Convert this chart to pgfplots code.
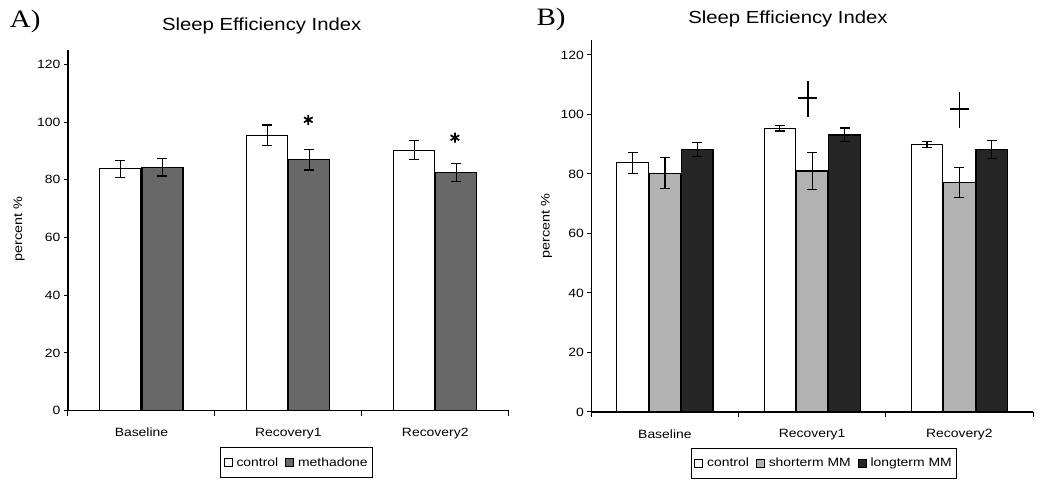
\documentclass[border=0pt]{standalone}
\usepackage{fontspec}
\setmainfont{Liberation Sans}[FakeStretch=1.16]
\newfontfamily\labelserif{Liberation Serif}[FakeStretch=1.16]
\usepackage{pgfplots}
\pgfplotsset{compat=1.18}
\definecolor{methgray}{HTML}{686868}
\definecolor{shortgray}{HTML}{B2B2B2}
\definecolor{longdark}{HTML}{262626}

\pgfplotsset{
  sleepaxis/.style={
    scale only axis, anchor=south west, clip=false,
    xmin=-0.5, xmax=2.5, ymin=0, ymax=125,
    axis x line=bottom, axis y line=left,
    axis line style={-, line width=1.1pt, black},
    xtick={0,1,2}, xticklabels={Baseline,Recovery1,Recovery2},
    minor xtick={-0.5,0.5,1.5,2.5},
    major x tick style={draw=none},
    minor tick length=5pt, major tick length=4pt,
    tick align=outside,
    ytick={0,20,...,120},
    tick style={black, line width=1pt},
    ticklabel style={font=\fontsize{12}{14}\selectfont},
    xticklabel style={yshift=-10pt},
    /pgf/number format/assume math mode=true,
    ylabel={percent \%},
    title={Sleep Efficiency Index},
    title style={font=\fontsize{17.5}{20}\selectfont, anchor=center},
    legend columns=-1,
    legend style={draw=black, line width=1pt, font=\fontsize{12}{14}\selectfont,
      anchor=center, inner xsep=3pt, inner ysep=8pt,
      /tikz/every odd column/.append style={column sep=2pt},
      /tikz/every even column/.append style={column sep=5pt}},
    legend image code/.code={\draw[#1, line width=0.8pt] (0pt,-4pt) rectangle (8pt,4pt);},
  },
  ebar/.style={error bars/.cd, y dir=both, y explicit,
    error bar style={black, line width=1.2pt},
    error mark options={rotate=90, black, mark size=5pt, line width=1.2pt}},
}

\begin{document}
\begin{tikzpicture}
\useasboundingbox (0,0) rectangle (1050pt,487pt);

% ---------------- Panel A ----------------
\begin{axis}[sleepaxis,
  at={(68pt,76.3pt)}, width=440.7pt, height=360.7pt,
  ylabel style={at={(axis description cs:-0.111,0.504)}, anchor=center,
    font=\fontsize{12.4}{14}\selectfont},
  title style={at={(axis description cs:0.4395,1.0507)}},
  legend style={at={(axis description cs:0.519,-0.1436)}},
]
\addplot[ybar, bar width=41pt, bar shift=0pt, fill=white, draw=black, line width=1pt, ebar]
  coordinates {(-0.143,83.8) +- (0,2.9) (0.857,95.4) +- (0,3.6) (1.857,90.3) +- (0,3.2)};
\addplot[ybar, bar width=41pt, bar shift=0pt, fill=methgray, draw=black, line width=1.2pt, ebar]
  coordinates {(0.143,84.3) +- (0,3.0) (1.143,87.0) +- (0,3.6) (2.143,82.5) +- (0,3.2)};
\legend{control, methadone}
% significance asterisks
\addplot[forget plot, sharp plot, only marks, mark=asterisk, mark size=5pt,
  mark options={line width=1.7pt, black}]
  coordinates {(1.136,100.8) (2.134,94.6)};
\node[font=\labelserif\fontsize{25}{28}\selectfont, anchor=center]
  at (axis description cs:-0.097,1.078) {A)};
\end{axis}

% ---------------- Panel B ----------------
\begin{axis}[sleepaxis,
  at={(591.3pt,75pt)}, width=441.7pt, height=372pt,
  ylabel style={at={(axis description cs:-0.101,0.501)}, anchor=center,
    font=\fontsize{12.4}{14}\selectfont},
  title style={at={(axis description cs:0.4453,1.0403)}},
  legend style={at={(axis description cs:0.527,-0.138)}},
]
\addplot[ybar, bar width=31.5pt, bar shift=0pt, fill=white, draw=black, line width=1pt, ebar]
  coordinates {(-0.220,83.7) +- (0,3.6) (0.780,95.3) +- (0,0.9) (1.780,89.9) +- (0,1.1)};
\addplot[ybar, bar width=31.5pt, bar shift=0pt, fill=shortgray, draw=black, line width=1.2pt, ebar]
  coordinates {(0,80.2) +- (0,5.2) (1,81.0) +- (0,6.2) (2,77.1) +- (0,5.1)};
\addplot[ybar, bar width=31.5pt, bar shift=0pt, fill=longdark, draw=black, line width=1.2pt, ebar]
  coordinates {(0.220,88.2) +- (0,2.4) (1.220,93.1) +- (0,2.3) (2.220,88.2) +- (0,2.9)};
\legend{control, shorterm MM, longterm MM}
% significance crosses
\addplot[forget plot, sharp plot, only marks, mark=-, mark size=9.5pt,
  mark options={line width=1.7pt, black},
  error bars/.cd, y dir=both, y explicit, error mark=none,
  error bar style={black, line width=1.7pt}]
  coordinates {(0.97,105.5) += (0,5.8) -= (0,6.3) (2.0,101.7) += (0,5.8) -= (0,6.3)};
\node[font=\labelserif\fontsize{25}{28}\selectfont, anchor=center]
  at (axis description cs:-0.091,1.056) {B)};
\end{axis}
\end{tikzpicture}
\end{document}
